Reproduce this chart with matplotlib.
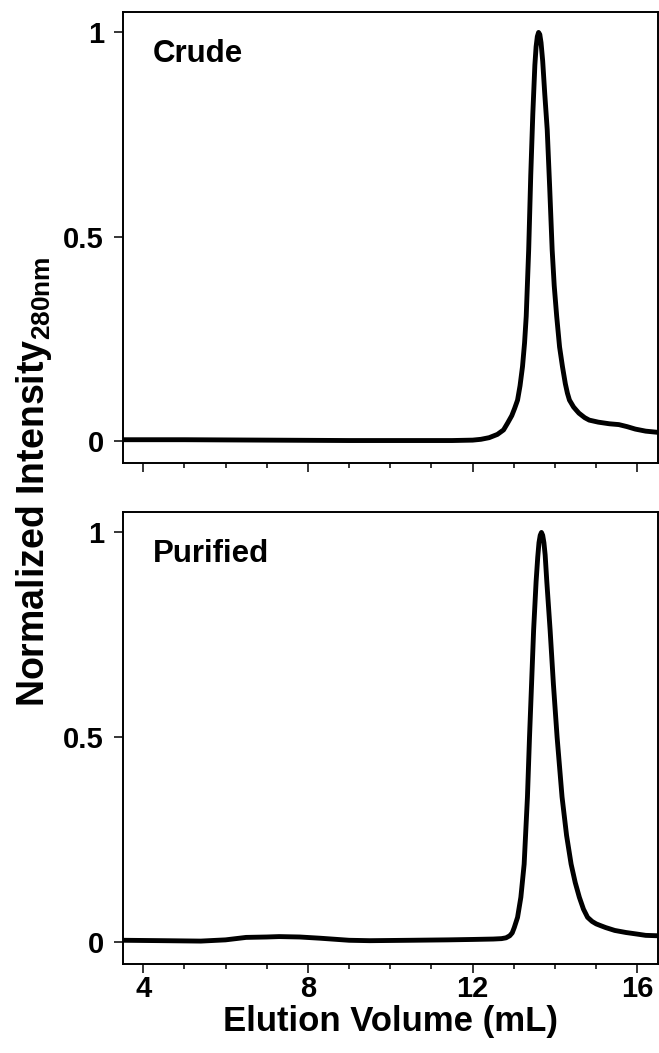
import matplotlib.pyplot as plt
from matplotlib.ticker import MultipleLocator

plt.rcParams['font.family'] = ['Liberation Sans', 'DejaVu Sans']
plt.rcParams['font.weight'] = 'bold'
plt.rcParams['mathtext.fontset'] = 'custom'
plt.rcParams['mathtext.rm'] = 'Liberation Sans'
plt.rcParams['mathtext.bf'] = 'Liberation Sans:bold'

# 读图估计的色谱数据 (mL, 归一化强度)
crude_ml = [3.5, 5.0, 7.0, 9.0, 10.5, 11.5, 12.0, 12.2, 12.4, 12.6,
            12.75, 12.85, 12.95, 13.02, 13.09, 13.15, 13.21, 13.26, 13.30, 13.36,
            13.41, 13.46, 13.51, 13.54, 13.57, 13.60, 13.63, 13.66, 13.70, 13.75,
            13.81, 13.87, 13.93, 13.98, 14.04, 14.11, 14.18, 14.25, 14.30, 14.35,
            14.45, 14.51, 14.58, 14.72, 14.83, 15.05, 15.32, 15.55, 15.75, 15.95,
            16.2, 16.5]
crude_int = [0.003, 0.003, 0.002, 0.001, 0.001, 0.001, 0.002, 0.004, 0.008, 0.016,
             0.027, 0.044, 0.062, 0.080, 0.100, 0.135, 0.182, 0.240, 0.305, 0.468,
             0.650, 0.800, 0.920, 0.965, 0.990, 1.000, 0.995, 0.975, 0.930, 0.850,
             0.762, 0.620, 0.468, 0.380, 0.305, 0.230, 0.182, 0.140, 0.117, 0.100,
             0.083, 0.076, 0.068, 0.057, 0.051, 0.046, 0.042, 0.040, 0.035, 0.029,
             0.024, 0.021]

pure_ml = [3.5, 4.5, 5.4, 6.0, 6.5, 7.0, 7.3, 7.8, 8.3, 9.0,
           9.5, 10.5, 11.4, 12.0, 12.5, 12.7, 12.81, 12.9, 12.96, 13.01,
           13.09, 13.17, 13.25, 13.33, 13.38, 13.43, 13.48, 13.54, 13.58, 13.61,
           13.64, 13.67, 13.70, 13.73, 13.76, 13.80, 13.88, 13.96, 14.05, 14.17,
           14.28, 14.39, 14.49, 14.59, 14.69, 14.79, 14.90, 15.00, 15.10, 15.23,
           15.45, 15.72, 16.0, 16.2, 16.5]
pure_int = [0.004, 0.003, 0.002, 0.005, 0.011, 0.012, 0.013, 0.012, 0.009, 0.004,
            0.003, 0.004, 0.005, 0.006, 0.007, 0.008, 0.010, 0.015, 0.022, 0.035,
            0.060, 0.109, 0.190, 0.354, 0.500, 0.630, 0.762, 0.880, 0.940, 0.975,
            0.993, 1.000, 0.993, 0.975, 0.945, 0.880, 0.762, 0.630, 0.500, 0.354,
            0.260, 0.190, 0.145, 0.109, 0.080, 0.060, 0.050, 0.044, 0.040, 0.035,
            0.028, 0.023, 0.019, 0.016, 0.015]

panels = [('Crude', crude_ml, crude_int), ('Purified', pure_ml, pure_int)]

fig = plt.figure(figsize=(6.59, 10.53), dpi=100)
ax_top = fig.add_axes([0.186, 0.5603, 0.8125, 0.4283])
ax_bot = fig.add_axes([0.186, 0.0845, 0.8125, 0.4293])

for ax, (name, xs, ys) in zip([ax_top, ax_bot], panels):
    ax.plot(xs, ys, color='black', lw=3.5, solid_joinstyle='round',
            solid_capstyle='round')
    ax.set_xlim(3.5, 16.5)
    ax.set_ylim(-0.054, 1.05)
    ax.xaxis.set_major_locator(MultipleLocator(4))
    ax.xaxis.set_minor_locator(MultipleLocator(1))
    ax.set_yticks([0, 0.5, 1])
    ax.set_yticklabels(['0', '0.5', '1'])
    ax.tick_params(axis='both', which='major', length=6.5, width=1.1,
                   labelsize=21, direction='out')
    ax.tick_params(axis='y', pad=7)
    ax.tick_params(axis='x', pad=1.5)
    ax.tick_params(axis='x', which='minor', length=3.5, width=1.1)
    for sp in ax.spines.values():
        sp.set_linewidth(1.4)
    ax.text(0.057, 0.94, name, transform=ax.transAxes, fontsize=22.5,
            fontweight='bold', va='top', ha='left')

ax_top.tick_params(axis='x', labelbottom=False)
ax_bot.set_xlabel('Elution Volume (mL)', fontsize=25, fontweight='bold', labelpad=1)

fig.text(0.051, 0.543, r'Normalized Intensity$_{\mathbf{280nm}}$', rotation=90,
         fontsize=27, fontweight='bold', ha='center', va='center')

plt.savefig('out.png', dpi=100)
